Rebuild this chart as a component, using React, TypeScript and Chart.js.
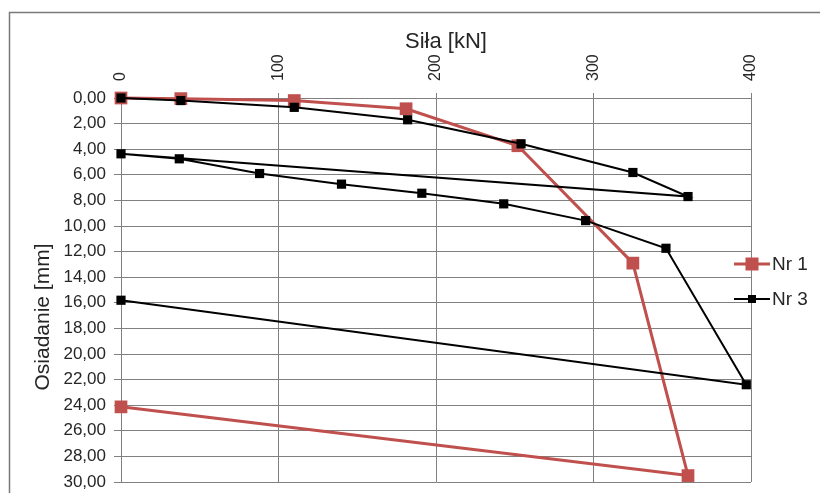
import React, { useEffect, useRef } from 'react';
import { Chart, registerables } from 'chart.js';

Chart.register(...registerables);

const SERIES_NAMES = ['Nr 1', 'Nr 3'];
const NR1_FORCE = [0, 38, 110, 181, 252, 325, 360, 0];
const NR1_SETTLEMENT = [0, 0.05, 0.2, 0.84, 3.73, 12.9, 29.5, 24.13];
const NR3_FORCE = [0, 38, 110, 182, 254, 325, 360, 0, 37, 88, 140, 191, 243, 295, 346, 397, 0];
const NR3_SETTLEMENT = [0, 0.2, 0.73, 1.7, 3.58, 5.82, 7.7, 4.36, 4.75, 5.9, 6.73, 7.44, 8.27, 9.58, 11.74, 22.4, 15.8];
const X_TICKS = [0, 100, 200, 300, 400];
const Y_TICKS = [0, 2, 4, 6, 8, 10, 12, 14, 16, 18, 20, 22, 24, 26, 28, 30];
const Y_TICK_LABELS = ['0,00', '2,00', '4,00', '6,00', '8,00', '10,00', '12,00', '14,00', '16,00', '18,00', '20,00', '22,00', '24,00', '26,00', '28,00', '30,00'];
const X_TITLE = 'Siła [kN]';
const Y_TITLE = 'Osiadanie [mm]';

const FONT = '"Liberation Sans", Arial, sans-serif';
const TEXT = '#262626';
const GRID = '#808080';
const RED = '#C0504D';

const framePlugin = {
  id: 'frame',
  beforeDraw(chart: any) {
    const { ctx, width, height } = chart;
    ctx.save();
    ctx.fillStyle = '#ffffff';
    ctx.fillRect(0, 0, width, height);
    ctx.strokeStyle = '#7a7a7a';
    ctx.lineWidth = 1.5;
    ctx.strokeRect(9.5, 12.5, width + 50, height + 50);
    ctx.restore();
  },
};

const titlesPlugin = {
  id: 'titles',
  afterDraw(chart: any) {
    const { ctx, chartArea } = chart;
    ctx.save();
    ctx.fillStyle = TEXT;
    ctx.font = `22px ${FONT}`;
    ctx.textAlign = 'center';
    ctx.textBaseline = 'middle';
    const cx = (chartArea.left + chartArea.right) / 2 + 10;
    ctx.fillText(X_TITLE, cx, chartArea.top - 56);
    ctx.font = `21px ${FONT}`;
    const cy = (chartArea.top + chartArea.bottom) / 2 + 27;
    ctx.translate(chartArea.left - 78, cy);
    ctx.rotate(-Math.PI / 2);
    ctx.fillText(Y_TITLE, 0, 0);
    ctx.restore();
  },
};

const legendPlugin = {
  id: 'customLegend',
  afterDraw(chart: any) {
    const { ctx, chartArea } = chart;
    const x0 = chartArea.right - 17;
    const midY = (chartArea.top + chartArea.bottom) / 2;
    const ys = [midY - 26, midY + 9];
    chart.data.datasets.forEach((ds: any, i: number) => {
      const y = ys[i];
      ctx.save();
      ctx.strokeStyle = ds.borderColor;
      ctx.lineWidth = ds.borderWidth;
      ctx.beginPath();
      ctx.moveTo(x0, y);
      ctx.lineTo(x0 + 36, y);
      ctx.stroke();
      const s = ds.legendMarker;
      ctx.fillStyle = ds.pointBackgroundColor;
      ctx.fillRect(x0 + 18 - s / 2, y - s / 2, s, s);
      ctx.fillStyle = TEXT;
      ctx.font = `19px ${FONT}`;
      ctx.textBaseline = 'middle';
      ctx.textAlign = 'left';
      ctx.fillText(ds.label, x0 + 38, y + 1);
      ctx.restore();
    });
  },
};

export default function App() {
  const ref = useRef<HTMLCanvasElement | null>(null);
  useEffect(() => {
    if (!ref.current) return;
    const chart = new Chart(ref.current, {
      type: 'scatter',
      data: {
        datasets: [
          {
            label: SERIES_NAMES[0],
            data: NR1_FORCE.map((x, i) => ({ x, y: NR1_SETTLEMENT[i] })),
            showLine: true,
            borderColor: RED,
            backgroundColor: RED,
            pointBackgroundColor: RED,
            pointBorderColor: RED,
            borderWidth: 3,
            pointStyle: 'rect',
            pointRadius: 9,
            pointBorderWidth: 0,
            clip: false,
            order: 2,
            legendMarker: 13,
          } as any,
          {
            label: SERIES_NAMES[1],
            data: NR3_FORCE.map((x, i) => ({ x, y: NR3_SETTLEMENT[i] })),
            showLine: true,
            borderColor: '#000000',
            backgroundColor: '#000000',
            pointBackgroundColor: '#000000',
            pointBorderColor: '#000000',
            borderWidth: 2,
            pointStyle: 'rect',
            pointRadius: 6.5,
            pointBorderWidth: 0,
            clip: false,
            order: 1,
            legendMarker: 8,
          } as any,
        ],
      },
      options: {
        responsive: false,
        animation: false,
        layout: { autoPadding: false, padding: { left: 0, top: 0, right: 69, bottom: 11 } },
        plugins: {
          legend: { display: false },
          tooltip: { enabled: false },
        },
        scales: {
          x: {
            type: 'linear',
            position: 'top',
            min: 0,
            max: 400,
            afterBuildTicks: (scale: any) => {
              scale.ticks = X_TICKS.map((v) => ({ value: v }));
            },
            afterFit: (scale: any) => {
              scale.height = 98;
              scale.paddingLeft = 0;
              scale.paddingRight = 0;
            },
            ticks: {
              minRotation: 90,
              maxRotation: 90,
              padding: 12,
              labelOffset: 19.2,
              color: TEXT,
              font: { family: FONT, size: 16 },
              callback: (v: any) => String(v),
            },
            grid: { color: GRID, lineWidth: 1, tickLength: 5, tickColor: GRID },
            border: { display: true, color: GRID },
            title: { display: false },
          },
          y: {
            type: 'linear',
            reverse: true,
            min: 0,
            max: 30,
            afterBuildTicks: (scale: any) => {
              scale.ticks = Y_TICKS.map((v) => ({ value: v }));
            },
            afterFit: (scale: any) => {
              scale.width = 121;
              scale.paddingTop = 0;
              scale.paddingBottom = 0;
            },
            ticks: {
              padding: 8,
              color: TEXT,
              font: { family: FONT, size: 17 },
              callback: (_v: any, i: number) => Y_TICK_LABELS[i],
            },
            grid: { color: GRID, lineWidth: 1, tickLength: 7, tickColor: GRID },
            border: { display: true, color: GRID },
            title: { display: false },
          },
        },
      },
      plugins: [framePlugin, titlesPlugin, legendPlugin],
    });
    return () => chart.destroy();
  }, []);
  return (
    <div style={{ position: 'fixed', left: 0, top: 0, width: 820, height: 493 }}>
      <canvas ref={ref} width={820} height={493} />
    </div>
  );
}
